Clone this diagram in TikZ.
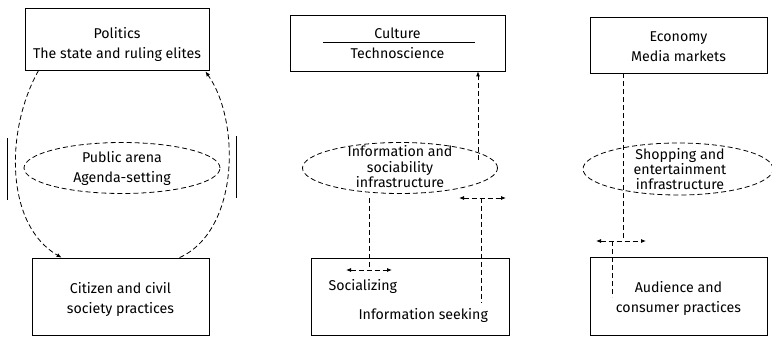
\documentclass[tikz,border=0pt]{standalone}
\usepackage{fontspec}
\setmainfont{Fira Sans}
\usetikzlibrary{arrows.meta,positioning,calc,shapes.geometric}

\tikzset{
  box/.style={draw,line width=0.8pt,minimum width=#1,inner sep=0pt},
  infra/.style={draw,ellipse,line width=0.8pt,dash pattern=on 5pt off 3pt,inner sep=0pt},
  dline/.style={line width=0.8pt,dash pattern=on 5pt off 3pt},
  link/.style={dline,-{Latex[length=5pt,width=4pt]}},
  twoway/.style={dline,{Latex[length=5pt,width=4pt]}-{Latex[length=5pt,width=4pt]}},
  lbl/.style={align=center,inner sep=0pt},
}

\begin{document}
\begin{tikzpicture}[x=1pt,y=-1pt,font=\fontsize{14.2}{20}\selectfont]
\useasboundingbox (0,0) rectangle (772,337);

% politics column
\node[box=184pt,minimum height=62pt] (pol) at (117,39) {};
\node[lbl] (poltxt) at ([yshift=-5pt]pol.center) {Politics\\The state and ruling elites};
\node[box=177pt,minimum height=77pt] (cit) at (120.5,296.5) {};
\node[lbl] (cittxt) at ([yshift=-3pt]cit.center) {Citizen and civil\\society practices};
\node[infra,minimum width=196pt,minimum height=51pt] (arena) at (122,168) {};
\node[lbl] (arenatxt) at (arena) {Public arena\\Agenda-setting};
\draw[line width=0.8pt] (7,138) -- (7,200);
\draw[line width=0.8pt] (236,136) -- (236,198);
\draw[link] ([xshift=14pt]pol.south west) .. controls (5,130) and (5,225) .. ([xshift=30pt]cit.north west);
\draw[link] ([xshift=148pt]cit.north west) .. controls (240,230) and (240,120) .. ([xshift=-4pt,yshift=-1pt]pol.south east);

% culture column
\node[box=215pt,minimum height=56pt] (cul) at (397.5,43) {};
\node (cultxt) at (397.5,33) {Culture};
\node (techtxt) at (397.5,53) {Technoscience};
\draw[line width=0.7pt] (323,42) -- (475,42);
\node[box=198pt,minimum height=77pt] (prac) at (410,296.5) {};
\node[infra,minimum width=195pt,minimum height=51pt] (info) at (400,168) {};
\node[lbl,font=\fontsize{14.2}{15.5}\selectfont] (infotxt) at (400,167) {Information and\\sociability\\infrastructure};
\node[anchor=west] (soc) at (325,286) {Socializing};
\node[anchor=west] (seek) at (355,315) {Information seeking};
\coordinate (upFoot) at (478,160);
\draw[link] (upFoot) -- (upFoot |- cul.south);
\coordinate (socTop) at (369,198);
\coordinate (socMid) at (369,270);
\draw[dline] (socTop) -- (socMid);
\draw[twoway] ([xshift=-23pt]socMid) -- ([xshift=23pt]socMid);
\coordinate (seekTop) at (481,198);
\coordinate (seekFoot) at (481,303);
\draw[dline] (seekTop) -- (seekFoot);
\draw[twoway] ([xshift=-22pt]seekTop) -- ([xshift=25pt]seekTop);

% economy column
\node[box=177pt,minimum height=56pt] (eco) at (678.5,45) {};
\node[lbl] (ecotxt) at ([yshift=-2pt]eco.center) {Economy\\Media markets};
\node[box=177pt,minimum height=78pt] (aud) at (678.5,296) {};
\node[lbl] (audtxt) at ([yshift=-2pt]aud.center) {Audience and\\consumer practices};
\node[infra,minimum width=190pt,minimum height=52pt] (shop) at (678,169) {};
\node[lbl,font=\fontsize{14.2}{15}\selectfont] (shoptxt) at (680,169) {Shopping and\\entertainment\\infrastructure};
\coordinate (shopMid) at (623,241);
\coordinate (audFoot) at (612,297);
\draw[dline] (eco.south -| shopMid) -- (shopMid);
\draw[twoway] ([xshift=-27pt]shopMid) -- ([xshift=23pt]shopMid);
\draw[dline] (shopMid -| audFoot) -- (audFoot);
\end{tikzpicture}
\end{document}
